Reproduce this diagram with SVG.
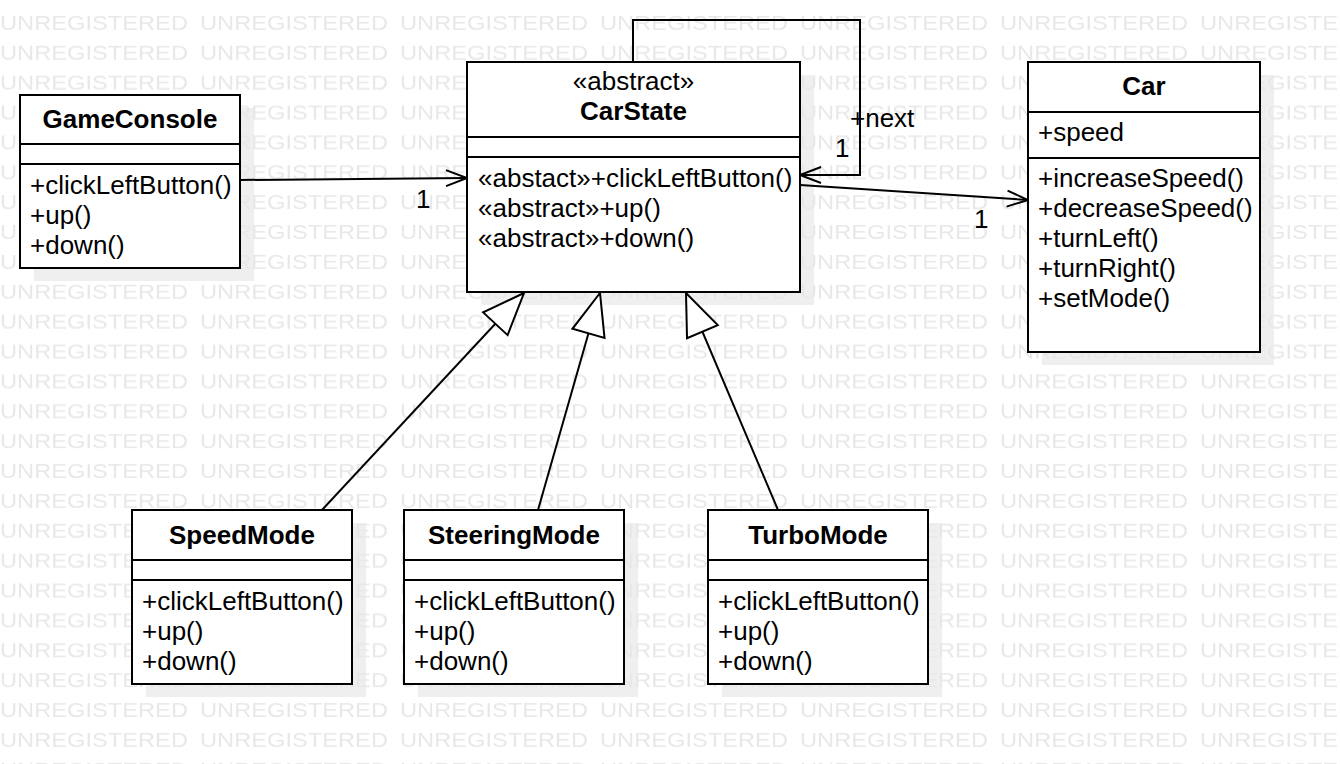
<svg xmlns="http://www.w3.org/2000/svg" width="1340" height="764" viewBox="0 0 1340 764">
<style>
  text { font-family: "Liberation Sans", Arial, sans-serif; font-size: 26px; fill: #000; }
  .wm { font-size: 21px; fill: #e8e8e8; }
  .title { font-weight: bold; text-anchor: middle; }
  .ctr { text-anchor: middle; }
  .box { fill: #fff; stroke: #000; stroke-width: 2; }
  .div { stroke: #000; stroke-width: 2; }
  .shadow { fill: #efefef; }
  .edge { fill: none; stroke: #000; stroke-width: 2; }
</style>
<defs>
  <pattern id="wm" patternUnits="userSpaceOnUse" x="0" y="3" width="200" height="29.875">
    <text class="wm" x="0" y="27" textLength="188" lengthAdjust="spacingAndGlyphs">UNREGISTERED</text>
  </pattern>
  <marker id="open" viewBox="-26 -12 30 24" refX="0" refY="0" markerWidth="30" markerHeight="24" markerUnits="userSpaceOnUse" orient="auto">
    <path d="M-21,-8 L0,0 L-21,8" fill="none" stroke="#000" stroke-width="2"/>
  </marker>
  <marker id="tri" viewBox="-46 -20 52 40" refX="0" refY="0" markerWidth="52" markerHeight="40" markerUnits="userSpaceOnUse" orient="auto">
    <path d="M0,0 L-42,-16.7 L-42,16.7 Z" fill="#fff" stroke="#000" stroke-width="2"/>
  </marker>
</defs>
<rect width="1340" height="764" fill="#fff"/>
<g id="shadows">
  <rect class="shadow" x="34" y="108" width="220" height="173"/>
  <rect class="shadow" x="481" y="75" width="333" height="230"/>
  <rect class="shadow" x="1042" y="75" width="232" height="290"/>
  <rect class="shadow" x="146" y="523" width="220" height="174"/>
  <rect class="shadow" x="418" y="523" width="220" height="174"/>
  <rect class="shadow" x="722" y="523" width="220" height="174"/>
</g>
<rect id="watermark" width="1340" height="764" fill="url(#wm)"/>
<g id="connectors">
  <path class="edge" d="M240,180 L467,178" marker-end="url(#open)"/>
  <path class="edge" d="M633,62 L633,20 L860,20 L860,175 L800,175" marker-end="url(#open)"/>
  <path class="edge" d="M800,185 L1028,200" marker-end="url(#open)"/>
  <path class="edge" d="M322,510 L524,293" marker-end="url(#tri)"/>
  <path class="edge" d="M538,510 L600,293" marker-end="url(#tri)"/>
  <path class="edge" d="M778,510 L686,293" marker-end="url(#tri)"/>
  <text x="416" y="208">1</text>
  <text x="850" y="127">+next</text>
  <text x="835" y="157">1</text>
  <text x="974" y="228">1</text>
</g>
<g id="GameConsole">
  <rect class="box" x="20" y="95" width="220" height="173"/>
  <line class="div" x1="20" y1="144" x2="240" y2="144"/>
  <line class="div" x1="20" y1="164" x2="240" y2="164"/>
  <text class="title" x="130" y="128">GameConsole</text>
  <text x="30" y="194">+clickLeftButton()</text>
  <text x="30" y="224">+up()</text>
  <text x="30" y="254">+down()</text>
</g>
<g id="CarState">
  <rect class="box" x="467" y="62" width="333" height="230"/>
  <line class="div" x1="467" y1="137" x2="800" y2="137"/>
  <line class="div" x1="467" y1="157" x2="800" y2="157"/>
  <text class="ctr" x="633.5" y="90">«abstract»</text>
  <text class="title" x="633.5" y="120">CarState</text>
  <text x="478" y="187">«abstact»+clickLeftButton()</text>
  <text x="478" y="217">«abstract»+up()</text>
  <text x="478" y="247">«abstract»+down()</text>
</g>
<g id="Car">
  <rect class="box" x="1028" y="62" width="232" height="290"/>
  <line class="div" x1="1028" y1="112" x2="1260" y2="112"/>
  <line class="div" x1="1028" y1="158" x2="1260" y2="158"/>
  <text class="title" x="1144" y="95">Car</text>
  <text x="1038" y="141">+speed</text>
  <text x="1038" y="187">+increaseSpeed()</text>
  <text x="1038" y="217">+decreaseSpeed()</text>
  <text x="1038" y="247">+turnLeft()</text>
  <text x="1038" y="277">+turnRight()</text>
  <text x="1038" y="307">+setMode()</text>
</g>
<g id="SpeedMode">
  <rect class="box" x="132" y="510" width="220" height="174"/>
  <line class="div" x1="132" y1="560" x2="352" y2="560"/>
  <line class="div" x1="132" y1="580" x2="352" y2="580"/>
  <text class="title" x="242" y="544">SpeedMode</text>
  <text x="142" y="610">+clickLeftButton()</text>
  <text x="142" y="640">+up()</text>
  <text x="142" y="670">+down()</text>
</g>
<g id="SteeringMode">
  <rect class="box" x="404" y="510" width="220" height="174"/>
  <line class="div" x1="404" y1="560" x2="624" y2="560"/>
  <line class="div" x1="404" y1="580" x2="624" y2="580"/>
  <text class="title" x="514" y="544">SteeringMode</text>
  <text x="414" y="610">+clickLeftButton()</text>
  <text x="414" y="640">+up()</text>
  <text x="414" y="670">+down()</text>
</g>
<g id="TurboMode">
  <rect class="box" x="708" y="510" width="220" height="174"/>
  <line class="div" x1="708" y1="560" x2="928" y2="560"/>
  <line class="div" x1="708" y1="580" x2="928" y2="580"/>
  <text class="title" x="818" y="544">TurboMode</text>
  <text x="718" y="610">+clickLeftButton()</text>
  <text x="718" y="640">+up()</text>
  <text x="718" y="670">+down()</text>
</g>
</svg>
